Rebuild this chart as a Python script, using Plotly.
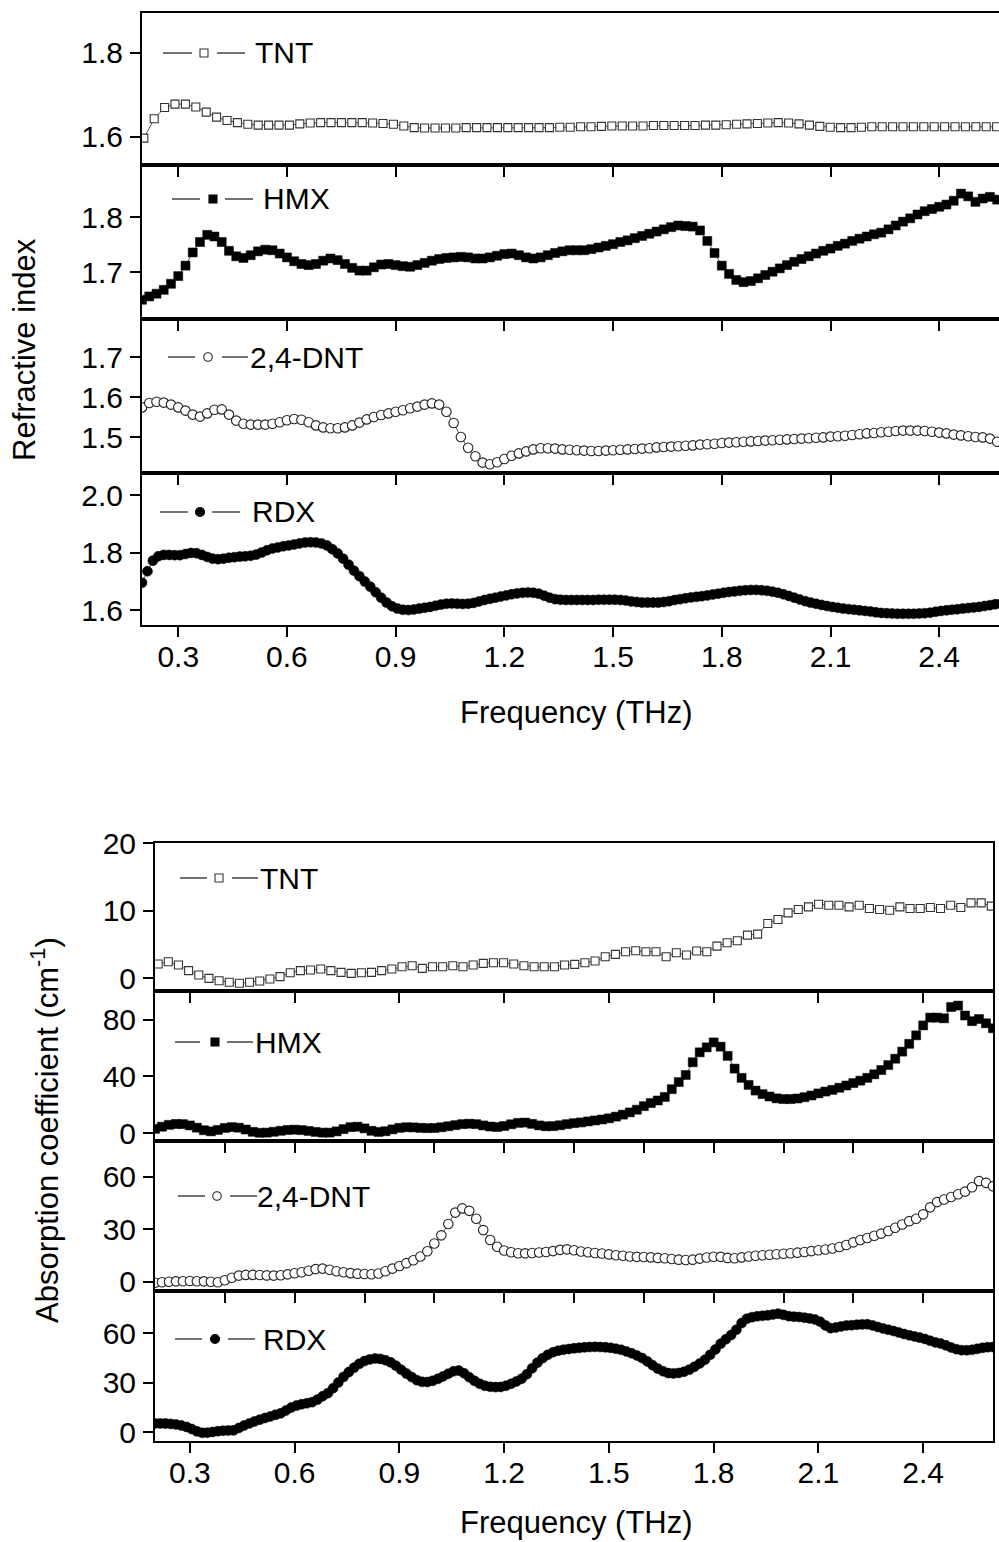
import numpy as np
import plotly.graph_objects as go

FONT = "Liberation Sans, Arial, sans-serif"
W, H = 999, 1542

# ---------------- data: refractive index (top figure) ----------------
# frequency sampling of each series (THz): start, step
RI_TNT_F0, RI_TNT_STEP = 0.205, 0.0287
RI_TNT = [1.597, 1.643, 1.670, 1.678, 1.678, 1.671, 1.659, 1.647, 1.639, 1.634,
          1.630, 1.628, 1.628, 1.628, 1.628, 1.631, 1.633, 1.634, 1.634, 1.634,
          1.634, 1.634, 1.633, 1.632, 1.630, 1.626, 1.622, 1.621, 1.621, 1.621,
          1.621, 1.622, 1.622, 1.622, 1.622, 1.622, 1.622, 1.622, 1.622, 1.622,
          1.623, 1.623, 1.624, 1.624, 1.625, 1.626, 1.626, 1.626, 1.626, 1.627,
          1.627, 1.627, 1.627, 1.627, 1.628, 1.628, 1.629, 1.630, 1.631, 1.632,
          1.633, 1.634, 1.633, 1.631, 1.628, 1.625, 1.623, 1.622, 1.622, 1.623,
          1.624, 1.624, 1.624, 1.624, 1.624, 1.624, 1.624, 1.624, 1.624, 1.624,
          1.624, 1.624, 1.624, 1.624]

RI_HMX_F0, RI_HMX_STEP = 0.20, 0.02
RI_HMX = [1.650, 1.656, 1.661, 1.668, 1.679, 1.693, 1.712, 1.736, 1.755, 1.768,
          1.765, 1.755, 1.739, 1.729, 1.726, 1.731, 1.738, 1.741, 1.740, 1.734,
          1.727, 1.720, 1.715, 1.713, 1.715, 1.721, 1.725, 1.722, 1.715, 1.708,
          1.703, 1.703, 1.709, 1.714, 1.715, 1.713, 1.711, 1.710, 1.713, 1.717,
          1.721, 1.724, 1.726, 1.727, 1.728, 1.727, 1.725, 1.725, 1.727, 1.730,
          1.733, 1.734, 1.731, 1.727, 1.725, 1.727, 1.731, 1.735, 1.738, 1.740,
          1.740, 1.740, 1.742, 1.745, 1.748, 1.751, 1.755, 1.758, 1.762, 1.766,
          1.770, 1.774, 1.778, 1.782, 1.785, 1.784, 1.783, 1.776, 1.757, 1.735,
          1.712, 1.697, 1.686, 1.682, 1.684, 1.689, 1.695, 1.701, 1.707, 1.713,
          1.719, 1.724, 1.729, 1.734, 1.739, 1.743, 1.748, 1.752, 1.757, 1.761,
          1.765, 1.769, 1.772, 1.778, 1.785, 1.792, 1.798, 1.805, 1.811, 1.815,
          1.819, 1.823, 1.830, 1.843, 1.838, 1.828, 1.834, 1.837, 1.832, 1.826,
          1.822]

RI_DNT_F0, RI_DNT_STEP = 0.20, 0.02
RI_DNT = [1.574, 1.585, 1.588, 1.586, 1.581, 1.574, 1.566, 1.556, 1.551, 1.559,
          1.568, 1.569, 1.556, 1.541, 1.533, 1.531, 1.531, 1.531, 1.533, 1.537,
          1.542, 1.545, 1.543, 1.537, 1.529, 1.524, 1.522, 1.522, 1.524, 1.529,
          1.536, 1.544, 1.550, 1.555, 1.559, 1.563, 1.567, 1.572, 1.576, 1.581,
          1.584, 1.581, 1.563, 1.535, 1.500, 1.473, 1.452, 1.436, 1.432, 1.437,
          1.445, 1.453, 1.459, 1.464, 1.469, 1.472, 1.472, 1.471, 1.469, 1.468,
          1.467, 1.466, 1.465, 1.465, 1.466, 1.467, 1.468, 1.469, 1.470, 1.471,
          1.472, 1.474, 1.475, 1.476, 1.477, 1.478, 1.479, 1.481, 1.482, 1.483,
          1.485, 1.486, 1.487, 1.488, 1.489, 1.490, 1.491, 1.492, 1.493, 1.494,
          1.495, 1.496, 1.497, 1.498, 1.499, 1.501, 1.502, 1.503, 1.505, 1.507,
          1.509, 1.510, 1.512, 1.513, 1.515, 1.516, 1.516, 1.516, 1.515, 1.513,
          1.511, 1.509, 1.506, 1.504, 1.502, 1.500, 1.499, 1.496, 1.488, 1.482,
          1.478]

RI_RDX_F0, RI_RDX_STEP = 0.20, 0.015
RI_RDX = [1.695, 1.735, 1.772, 1.787, 1.792, 1.792, 1.791, 1.791, 1.795, 1.799,
          1.798, 1.792, 1.785, 1.779, 1.777, 1.779, 1.782, 1.784, 1.786, 1.787,
          1.789, 1.793, 1.800, 1.808, 1.814, 1.818, 1.822, 1.825, 1.828, 1.832,
          1.835, 1.836, 1.835, 1.832, 1.825, 1.812, 1.797, 1.779, 1.758, 1.737,
          1.718, 1.699, 1.681, 1.662, 1.643, 1.626, 1.613, 1.605, 1.601, 1.600,
          1.602, 1.605, 1.608, 1.611, 1.615, 1.619, 1.622, 1.623, 1.622, 1.621,
          1.622, 1.625, 1.630, 1.635, 1.639, 1.643, 1.647, 1.651, 1.655, 1.658,
          1.660, 1.661, 1.660, 1.657, 1.650, 1.643, 1.638, 1.636, 1.635, 1.635,
          1.635, 1.635, 1.635, 1.635, 1.636, 1.636, 1.636, 1.636, 1.635, 1.633,
          1.630, 1.628, 1.626, 1.626, 1.626, 1.626, 1.628, 1.631, 1.635, 1.638,
          1.641, 1.644, 1.646, 1.648, 1.651, 1.654, 1.657, 1.660, 1.663, 1.665,
          1.667, 1.669, 1.670, 1.670, 1.669, 1.667, 1.664, 1.660, 1.655, 1.649,
          1.643, 1.637, 1.631, 1.626, 1.622, 1.618, 1.614, 1.611, 1.608, 1.605,
          1.603, 1.601, 1.599, 1.597, 1.595, 1.592, 1.590, 1.589, 1.588, 1.587,
          1.587, 1.587, 1.587, 1.588, 1.589, 1.591, 1.594, 1.597, 1.599, 1.601,
          1.603, 1.605, 1.607, 1.609, 1.611, 1.614, 1.617, 1.620, 1.622, 1.624,
          1.626]

# ---------------- data: absorption coefficient (bottom figure, cm^-1) ----------------
AB_TNT_F0, AB_TNT_STEP = 0.209, 0.0291
AB_TNT = [2.07, 2.42, 1.93, 1.09, 0.44, -0.05, -0.40, -0.64, -0.79, -0.64,
          -0.44, -0.15, 0.20, 0.79, 1.09, 1.19, 1.33, 1.09, 0.84, 0.69,
          0.79, 0.84, 1.09, 1.33, 1.68, 1.83, 1.43, 1.68, 1.68, 1.83,
          1.68, 1.93, 2.17, 2.27, 2.27, 2.07, 1.83, 1.68, 1.68, 1.68,
          1.93, 2.02, 2.27, 2.52, 3.16, 3.51, 3.90, 4.05, 3.90, 3.90,
          3.16, 3.75, 3.41, 4.00, 3.90, 4.74, 5.23, 5.53, 6.37, 6.52,
          8.10, 8.69, 9.67, 10.17, 10.57, 10.96, 10.81, 10.81, 10.57, 10.81,
          10.32, 10.17, 10.07, 10.57, 10.32, 10.32, 10.47, 10.32, 10.81, 10.47,
          11.16, 11.16, 10.67]

AB_HMX_F0, AB_HMX_STEP = 0.20, 0.02
AB_HMX = [3.0, 4.5, 5.8, 6.4, 6.3, 5.4, 3.8, 2.0, 1.2, 2.2,
          3.6, 4.2, 3.8, 2.5, 0.9, 0.2, 0.3, 0.9, 1.6, 2.2,
          2.4, 2.1, 1.5, 0.8, 0.3, 0.3, 1.2, 2.8, 4.2, 4.5,
          3.3, 1.6, 0.8, 1.3, 2.6, 3.7, 4.1, 4.0, 3.7, 3.5,
          3.6, 4.1, 4.8, 5.6, 6.3, 6.6, 6.3, 5.4, 4.6, 4.3,
          5.0, 6.2, 7.2, 7.4, 6.5, 5.4, 4.8, 4.9, 5.5, 6.3,
          7.0, 7.5, 8.2, 8.9, 9.6, 10.4, 11.6, 13.0, 14.6, 16.5,
          19.0, 21.2, 23.0, 25.5, 31.0, 36.0, 41.0, 50.0, 57.0, 60.5,
          64.0, 61.0, 54.5, 45.5, 39.0, 34.0, 30.0, 27.5, 25.8, 24.5,
          24.0, 24.0, 24.4, 25.3, 26.5, 28.0, 29.3, 30.5, 32.0, 33.6,
          35.3, 37.0, 39.0, 41.5, 44.5, 48.0, 52.5, 57.5, 63.0, 69.0,
          76.0, 81.5, 81.5, 81.0, 89.0, 90.0, 83.0, 79.0, 80.5, 77.5,
          74.0]

AB_DNT_F0, AB_DNT_STEP = 0.20, 0.02
AB_DNT = [-0.6, -0.3, 0.0, 0.2, 0.3, 0.4, 0.3, 0.2, 0.0, -0.3,
          0.8, 2.3, 3.5, 3.9, 3.9, 3.8, 3.6, 3.5, 3.7, 4.2,
          4.8, 5.4, 6.3, 7.2, 7.5, 6.8, 6.0, 5.4, 4.9, 4.6,
          4.4, 4.3, 4.7, 6.0, 7.5, 9.0, 10.6, 12.3, 14.4, 17.4,
          21.8, 26.5, 33.0, 39.5, 41.9, 40.5, 36.0, 29.5, 23.8, 20.0,
          17.8, 16.8, 16.3, 16.2, 16.4, 16.7, 17.0, 17.5, 18.2, 18.5,
          18.0, 17.3, 16.8, 16.4, 16.1, 15.6, 15.1, 14.8, 14.4, 14.2,
          14.1, 13.9, 13.6, 13.4, 13.0, 12.6, 12.4, 12.6, 13.2, 13.8,
          14.3, 14.2, 13.6, 13.4, 13.9, 14.4, 14.8, 15.1, 15.4, 15.7,
          16.0, 16.3, 16.6, 17.0, 17.5, 18.0, 18.4, 19.0, 19.8, 21.0,
          22.5, 23.8, 25.0, 26.3, 27.5, 29.0, 30.8, 32.7, 34.6, 36.0,
          38.5, 42.5, 45.5, 47.0, 48.4, 50.0, 51.5, 54.0, 57.5, 56.5,
          54.5]

AB_RDX_F0, AB_RDX_STEP = 0.20, 0.015
AB_RDX = [5.2, 5.2, 5.1, 4.9, 4.6, 4.0, 3.1, 1.8, 0.4, -0.5,
          -0.4, 0.0, 0.5, 0.8, 0.9, 1.0, 2.4, 3.9, 5.2, 6.4,
          7.5, 8.5, 9.4, 10.4, 11.3, 13.0, 14.8, 16.0, 16.8, 17.4,
          18.1, 19.6, 21.7, 23.5, 26.5, 30.0, 33.4, 36.3, 39.0, 41.3,
          43.0, 44.0, 44.5, 44.3, 43.5, 42.2, 40.2, 37.7, 35.4, 33.3,
          31.4, 30.4, 30.3, 31.0, 32.2, 33.7, 35.3, 36.8, 37.2, 35.6,
          33.2, 31.0, 29.2, 28.0, 27.4, 27.2, 27.3, 28.0, 29.2, 30.6,
          32.3, 35.0, 38.6, 42.0, 44.7, 46.8, 48.3, 49.3, 49.9, 50.3,
          50.7, 51.0, 51.3, 51.5, 51.6, 51.5, 51.3, 51.0, 50.5, 49.8,
          48.8, 47.7, 46.4, 44.8, 42.8, 40.5, 38.4, 36.8, 35.7, 35.5,
          35.8, 36.5, 37.8, 39.5, 41.5, 43.8, 46.8, 50.0, 53.5, 56.2,
          58.8, 62.0, 66.0, 68.6, 69.6, 70.1, 70.4, 70.7, 71.2, 71.7,
          71.0, 70.2, 69.9, 69.7, 69.3, 68.8, 68.2, 66.8, 64.6, 62.9,
          63.3, 64.0, 64.5, 64.7, 65.0, 65.2, 65.3, 64.6, 63.6, 62.7,
          62.0, 61.2, 60.3, 59.4, 58.6, 57.9, 57.2, 56.4, 55.3, 54.3,
          53.6, 52.5, 51.2, 50.2, 49.6, 49.5, 49.8, 50.4, 51.0, 51.4,
          51.5]

# ---------------- tick labels ----------------
X_TICKS_03 = [0.3, 0.6, 0.9, 1.2, 1.5, 1.8, 2.1, 2.4]
X_TICKTEXT_03 = ["0.3", "0.6", "0.9", "1.2", "1.5", "1.8", "2.1", "2.4"]
X_TICKS_02 = [0.4, 0.6, 0.8, 1.0, 1.2, 1.4, 1.6, 1.8, 2.0, 2.2, 2.4]

# ---------------- styles ----------------
STYLE = {
    "TNT": dict(symbol="square", size=8, fill="white", edge="#333333", edgew=1.1),
    "HMX": dict(symbol="square", size=9, fill="black", edge="black", edgew=0.5),
    "2,4-DNT": dict(symbol="circle", size=9.5, fill="white", edge="#222222", edgew=1.1),
    "RDX": dict(symbol="circle", size=10, fill="black", edge="black", edgew=0.5),
}
LEGEND_MARK = {"TNT": 8, "HMX": 8, "2,4-DNT": 8.5, "RDX": 9}

TOP_XDOM = [142 / W, 1.0]
BOT_XDOM = [155 / W, 993 / W]
TOP_XR = [0.2, 2.565]
BOT_XR = [0.2, 2.6]

# panels: label, freq start, step, values, y range, y tickvals, y ticktext,
#         x ticks, show x labels, x domain, y px (top, bottom), x range, mirror y
PANELS = [
    ("TNT", RI_TNT_F0, RI_TNT_STEP, RI_TNT, [1.533, 1.895], [1.6, 1.8], ["1.6", "1.8"],
     X_TICKS_03, False, TOP_XDOM, (13, 165), TOP_XR, False),
    ("HMX", RI_HMX_F0, RI_HMX_STEP, RI_HMX, [1.615, 1.895], [1.7, 1.8], ["1.7", "1.8"],
     X_TICKS_03, False, TOP_XDOM, (165, 319), TOP_XR, False),
    ("2,4-DNT", RI_DNT_F0, RI_DNT_STEP, RI_DNT, [1.41, 1.795], [1.5, 1.6, 1.7], ["1.5", "1.6", "1.7"],
     X_TICKS_03, False, TOP_XDOM, (319, 473), TOP_XR, False),
    ("RDX", RI_RDX_F0, RI_RDX_STEP, RI_RDX, [1.548, 2.077], [1.6, 1.8, 2.0], ["1.6", "1.8", "2.0"],
     X_TICKS_03, True, TOP_XDOM, (473, 625), TOP_XR, False),
    ("TNT", AB_TNT_F0, AB_TNT_STEP, AB_TNT, [-1.93, 20.05], [0, 10, 20], ["0", "10", "20"],
     X_TICKS_03, False, BOT_XDOM, (843, 991), BOT_XR, True),
    ("HMX", AB_HMX_F0, AB_HMX_STEP, AB_HMX, [-5.6, 100.3], [0, 40, 80], ["0", "40", "80"],
     X_TICKS_02, False, BOT_XDOM, (991, 1141), BOT_XR, True),
    ("2,4-DNT", AB_DNT_F0, AB_DNT_STEP, AB_DNT, [-5.3, 80.4], [0, 30, 60], ["0", "30", "60"],
     X_TICKS_02, False, BOT_XDOM, (1141, 1291), BOT_XR, True),
    ("RDX", AB_RDX_F0, AB_RDX_STEP, AB_RDX, [-5.45, 85.45], [0, 30, 60], ["0", "30", "60"],
     X_TICKS_03, True, BOT_XDOM, (1291, 1441), BOT_XR, True),
]

# legend glyph placement (pixels): y, line1 x0-x1, marker x, line2 x0-x1, text x
LEGEND_POS = [
    (53, (163, 192), 204, (217, 245), 253),
    (199, (172, 200), 213, (225, 253), 261),
    (357, (168, 195), 208, (222, 248), 248),
    (512, (160, 188), 200, (212, 240), 250),
    (878, (180, 207), 219, (232, 258), 258),
    (1042, (175, 200), 215, (227, 253), 253),
    (1196, (178, 205), 217, (230, 257), 255),
    (1339, (175, 202), 215, (228, 255), 261),
]

fig = go.Figure()
layout = dict(
    width=W, height=H, margin=dict(l=0, r=0, t=0, b=0, pad=0, autoexpand=False),
    paper_bgcolor="white", plot_bgcolor="white", showlegend=False,
    font=dict(family=FONT, size=30, color="black"),
)
shapes, annotations = [], []


def px2x(px):
    return px / W


def py2y(py):
    return 1 - py / H


for i, (label, f0, step, vals, yr, ytv, ytt, xtv, xlab, xdom, (ytop, ybot), xr, mirror_y) in enumerate(PANELS, start=1):
    freq = np.round(f0 + step * np.arange(len(vals)), 4)
    st = STYLE[label]
    xa = "x" if i == 1 else f"x{i}"
    ya = "y" if i == 1 else f"y{i}"
    fig.add_trace(go.Scatter(
        x=freq, y=vals, mode="lines+markers", xaxis=xa, yaxis=ya,
        line=dict(color="#555555", width=1),
        marker=dict(symbol=st["symbol"], size=st["size"], color=st["fill"],
                    line=dict(color=st["edge"], width=st["edgew"])),
        hoverinfo="skip", showlegend=False,
    ))
    xkey = "xaxis" if i == 1 else f"xaxis{i}"
    ykey = "yaxis" if i == 1 else f"yaxis{i}"
    xaxis = dict(
        domain=xdom, range=xr, anchor=ya, showgrid=False, zeroline=False,
        showline=True, linecolor="black", linewidth=2, mirror=True,
        ticks="outside", ticklen=10, tickwidth=2, tickcolor="black",
        tickmode="array", tickvals=xtv, automargin=False,
        showticklabels=xlab, tickfont=dict(family=FONT, size=30, color="black"),
    )
    if xlab:
        xaxis["ticktext"] = X_TICKTEXT_03
        xaxis["ticklabelstandoff"] = -6
    layout[xkey] = xaxis
    layout[ykey] = dict(
        domain=[py2y(ybot), py2y(ytop)], range=yr, anchor=xa, showgrid=False, zeroline=False,
        showline=True, linecolor="black", linewidth=2, mirror=mirror_y,
        ticks="outside", ticklen=10, tickwidth=2, tickcolor="black",
        tickmode="array", tickvals=ytv, ticktext=ytt, automargin=False,
        tickfont=dict(family=FONT, size=30, color="black"),
        ticklabelstandoff=1,
    )

    # legend glyph
    ly, (a0, a1), mx, (b0, b1), tx = LEGEND_POS[i - 1]
    for (u0, u1) in ((a0, a1), (b0, b1)):
        shapes.append(dict(type="line", xref="paper", yref="paper",
                           x0=px2x(u0), x1=px2x(u1), y0=py2y(ly), y1=py2y(ly),
                           line=dict(color="#444444", width=1.5)))
    r = LEGEND_MARK[label] / 2
    shapes.append(dict(type="rect" if st["symbol"] == "square" else "circle",
                       xref="paper", yref="paper",
                       x0=px2x(mx - r), x1=px2x(mx + r), y0=py2y(ly + r), y1=py2y(ly - r),
                       fillcolor=st["fill"], line=dict(color=st["edge"], width=1.1)))
    annotations.append(dict(text=label, xref="paper", yref="paper", x=px2x(tx), y=py2y(ly),
                            xanchor="left", yanchor="middle", showarrow=False,
                            font=dict(family=FONT, size=30, color="black")))

# axis titles
annotations += [
    dict(text="Refractive index", xref="paper", yref="paper", x=px2x(25), y=py2y(350),
         textangle=-90, showarrow=False, xanchor="center", yanchor="middle",
         font=dict(family=FONT, size=31, color="black")),
    dict(text="Frequency (THz)", xref="paper", yref="paper", x=px2x(576), y=py2y(712),
         showarrow=False, xanchor="center", yanchor="middle",
         font=dict(family=FONT, size=31, color="black")),
    dict(text="Absorption coefficient (cm<sup>-1</sup>)", xref="paper", yref="paper",
         x=px2x(45), y=py2y(1130), textangle=-90, showarrow=False,
         xanchor="center", yanchor="middle",
         font=dict(family=FONT, size=31, color="black")),
    dict(text="Frequency (THz)", xref="paper", yref="paper", x=px2x(576), y=py2y(1522),
         showarrow=False, xanchor="center", yanchor="middle", borderpad=0,
         font=dict(family=FONT, size=31, color="black")),
]

layout["shapes"] = shapes
layout["annotations"] = annotations
fig.update_layout(**layout)
fig.write_html("out.html")
